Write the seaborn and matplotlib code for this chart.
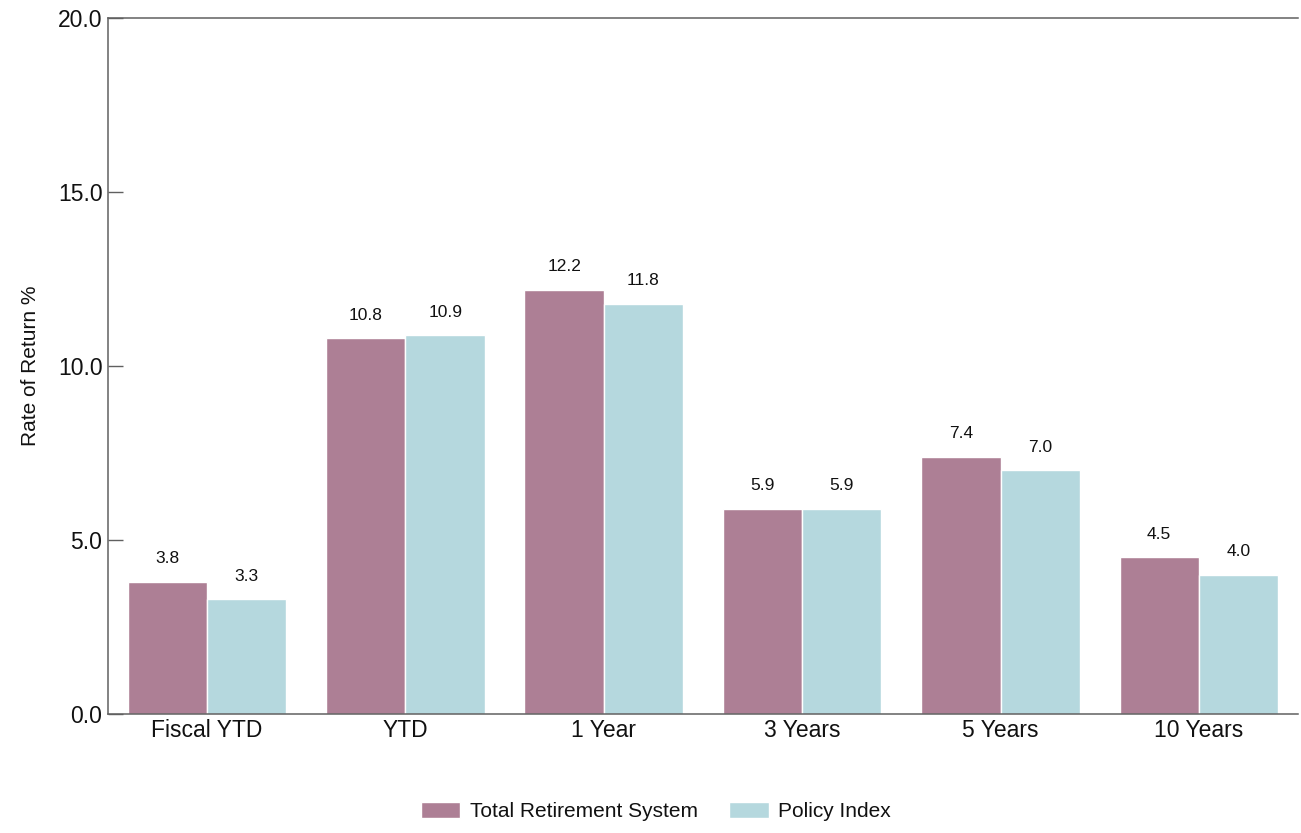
import numpy as np
import pandas as pd
import matplotlib
matplotlib.use("Agg")
import matplotlib.pyplot as plt
import seaborn as sns

categories = ["Fiscal YTD", "YTD", "1 Year", "3 Years", "5 Years", "10 Years"]
total_system = [3.8, 10.8, 12.2, 5.9, 7.4, 4.5]
policy_index = [3.3, 10.9, 11.8, 5.9, 7.0, 4.0]
series = ["Total Retirement System", "Policy Index"]
yticks = [0.0, 5.0, 10.0, 15.0, 20.0]

df = pd.DataFrame({
    "period": categories * 2,
    "value": total_system + policy_index,
    "series": [series[0]] * len(categories) + [series[1]] * len(categories),
})

sns.set_style("white")
plt.rcParams["font.family"] = ["Liberation Sans", "DejaVu Sans"]
plt.rcParams["text.color"] = "#111111"
plt.rcParams["xtick.color"] = "#111111"
plt.rcParams["ytick.color"] = "#111111"
plt.rcParams["axes.labelcolor"] = "#111111"

fig = plt.figure(figsize=(13.01, 8.33), dpi=100)
ax = fig.add_axes([0.083, 0.143, 0.9147, 0.835])

palette = {series[0]: "#ad7f95", series[1]: "#b5d8de"}
sns.barplot(data=df, x="period", y="value", hue="series", order=categories,
            hue_order=series, palette=palette, width=0.8, saturation=1,
            edgecolor="white", linewidth=1, ax=ax)

for cont in ax.containers:
    ax.bar_label(cont, fmt="%.1f", padding=11, fontsize=12.5, color="#111111")

ax.set_xlim(-0.5, 5.5)
ax.set_ylim(0, 20)
ax.set_yticks(yticks)
ax.set_yticklabels([f"{t:.1f}" for t in yticks], fontsize=16.5)
ax.set_xticks(range(len(categories)))
ax.set_xticklabels(categories, fontsize=16.5)
ax.tick_params(axis="y", direction="in", length=11, width=1, color="#606060",
               left=True, pad=4)
ax.tick_params(axis="x", length=0, pad=4)
ax.set_xlabel("")
ax.set_ylabel("Rate of Return %", fontsize=15, labelpad=13)

for side in ["left", "top", "bottom"]:
    ax.spines[side].set_visible(True)
    ax.spines[side].set_color("#606060")
    ax.spines[side].set_linewidth(1.1)
ax.spines["right"].set_visible(False)

handles, labels = ax.get_legend_handles_labels()
ax.get_legend().remove()
fig.legend(handles, labels, loc="center", bbox_to_anchor=(0.504, 0.026),
           ncol=2, frameon=False, fontsize=15, handlelength=1.9,
           handleheight=0.8, columnspacing=1.5, handletextpad=0.45)

fig.savefig("out.png", dpi=100)
